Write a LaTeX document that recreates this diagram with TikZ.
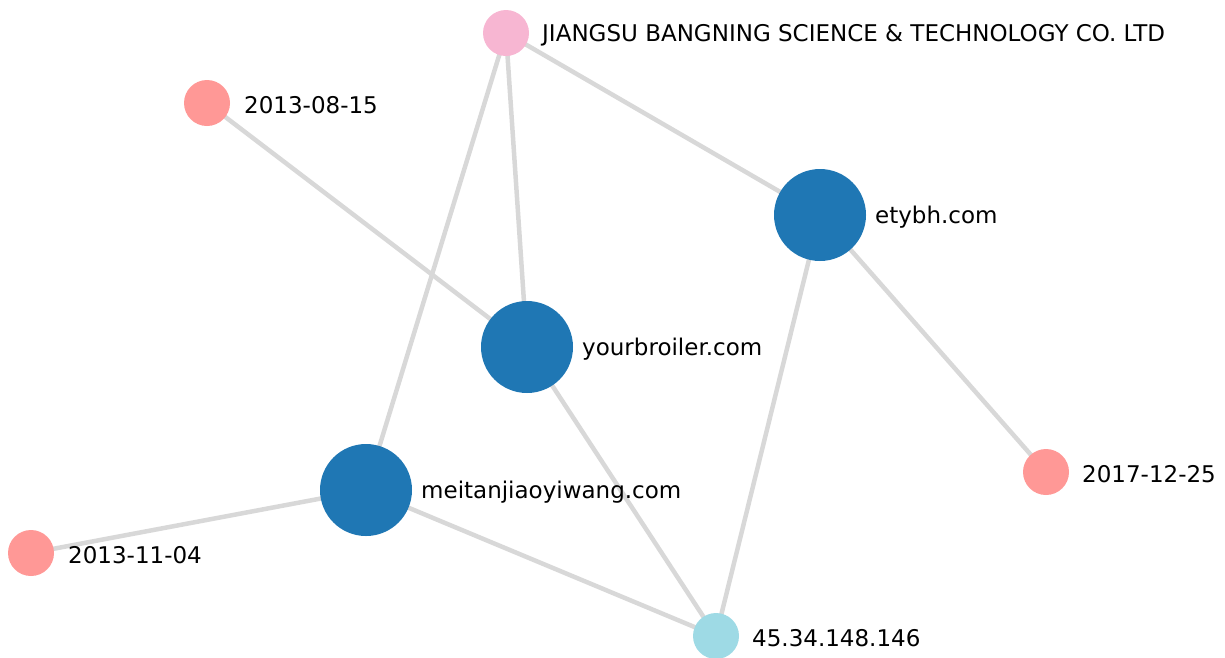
\documentclass[tikz,border=0pt]{standalone}
\usepackage{fontspec}
\setmainfont{DejaVu Sans}
\usepackage{xcolor}
\usepackage{tikz}
\usetikzlibrary{backgrounds}
\definecolor{domainblue}{HTML}{1F77B4}
\definecolor{datesalmon}{HTML}{FF9896}
\definecolor{orgpink}{HTML}{F7B6D2}
\definecolor{ipcyan}{HTML}{9EDAE5}
\definecolor{edgegray}{HTML}{D8D8D8}

\begin{document}
\begin{tikzpicture}[x=1pt,y=-1pt]
    % `bignode' is used for the big blue domain nodes.
    % `smallnode' is used for dates, the organisation and the IP address.
    % `edgeline' is used for the grey connectors.
    \tikzstyle{bignode} = [circle,fill=domainblue,minimum size=92pt,inner sep=0pt]
    \tikzstyle{smallnode} = [circle,minimum size=46pt,inner sep=0pt]
    \tikzstyle{edgeline} = [draw=edgegray,line width=4.5pt]
    \tikzstyle{lbl} = [font=\fontsize{23}{27}\selectfont,anchor=west,inner xsep=0pt]
    \useasboundingbox (0,0) rectangle (1225,657);
    %
    % Nodes.
    \node[smallnode,fill=orgpink] (org) at (506,33) {};
    \node[smallnode,fill=datesalmon] (d1) at (207,103) {};
    \node[bignode] (ety) at (820,215) {};
    \node[bignode] (your) at (527,347) {};
    \node[bignode] (meit) at (366,490) {};
    \node[smallnode,fill=datesalmon] (d3) at (1046,472) {};
    \node[smallnode,fill=datesalmon] (d2) at (31,553) {};
    \node[smallnode,fill=ipcyan] (ip) at (716,636) {};
    % Labels.
    \node[lbl] (orglbl) at (542,35) {JIANGSU BANGNING SCIENCE \& TECHNOLOGY CO. LTD};
    \node[lbl] (d1lbl) at (244,105) {2013-08-15};
    \node[lbl] (etylbl) at (875,217) {etybh.com};
    \node[lbl] (yourlbl) at (582,349) {yourbroiler.com};
    \node[lbl] (meitlbl) at (421,492) {meitanjiaoyiwang.com};
    \node[lbl] (d3lbl) at (1082,474) {2017-12-25};
    \node[lbl] (d2lbl) at (68,555) {2013-11-04};
    \node[lbl] (iplbl) at (752,638) {45.34.148.146};
    %
    \begin{pgfonlayer}{background}
        % Draw lines.
        \draw[edgeline] (org.center) -- (ety.center)  (org.center) -- (your.center)  (org.center) -- (meit.center);
        \draw[edgeline] (d1.center) -- (your.center)  (ety.center) -- (d3.center)  (ety.center) -- (ip.center);
        \draw[edgeline] (your.center) -- (ip.center)  (meit.center) -- (ip.center)  (meit.center) -- (d2.center);
    \end{pgfonlayer}
    %
\end{tikzpicture}
\end{document}
